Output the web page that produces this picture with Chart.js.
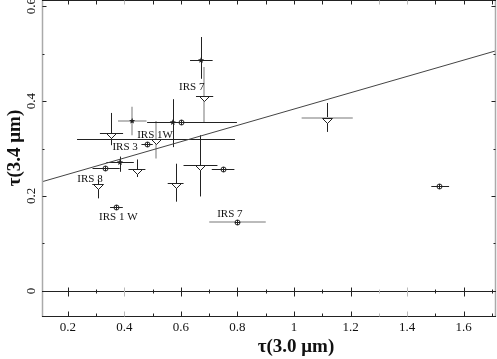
<!DOCTYPE html>
<html>
<head>
<meta charset="utf-8">
<script src="https://cdn.jsdelivr.net/npm/chart.js@4/dist/chart.umd.min.js"></script>
<style>
  html, body { margin: 0; padding: 0; background: #fff; }
  canvas { display: block; }
</style>
</head>
<body>
<canvas id="myChart" width="497" height="359"></canvas>
<script>
'use strict';

// ---- data ----
// stars
let starX   = [0.671, 0.427, 0.571, 0.384];
let starY   = [0.486, 0.358, 0.355, 0.271];
let starXLo = [0.632, 0.377, 0.480, 0.336];
let starXHi = [0.712, 0.478, 0.798, 0.433];
let starYLo = [0.447, 0.328, 0.303, 0.251];
let starYHi = [0.535, 0.388, 0.404, 0.283];

// circles with cross
let circX   = [0.600, 0.481, 0.331, 0.370, 0.750, 0.799, 1.514];
let circY   = [0.355, 0.309, 0.258, 0.177, 0.257, 0.146, 0.221];
let circXLo = [0.585, 0.460, 0.287, 0.349, 0.709, 0.700, 1.486];
let circXHi = [0.615, 0.500, 0.383, 0.394, 0.789, 0.900, 1.549];

// open triangles (pointing down)
let triX   = [0.681, 0.352, 0.511, 0.443, 0.305, 0.582, 0.668, 1.118];
let triY   = [0.411, 0.333, 0.320, 0.257, 0.226, 0.227, 0.265, 0.365];
let triXLo = [0.653, 0.313, 0.232, 0.414, 0.286, 0.553, 0.609, 1.027];
let triXHi = [0.714, 0.395, 0.791, 0.474, 0.325, 0.609, 0.729, 1.208];
let triYLo = [0.354, 0.307, 0.279, 0.240, 0.195, 0.188, 0.199, 0.335];
let triYHi = [0.472, 0.375, 0.358, 0.277, 0.234, 0.268, 0.328, 0.396];

// fitted line end points
let fitX = [0.108, 1.715];
let fitY = [0.230, 0.506];

// source labels
let labelText = ['IRS 7', 'IRS 1W', 'IRS 3', 'IRS 8', 'IRS 1 W', 'IRS 7'];
let labelX    = [0.638, 0.508, 0.402, 0.278, 0.378, 0.773];
let labelY    = [0.430, 0.328, 0.303, 0.235, 0.156, 0.162];

let xTicks = [0.2, 0.4, 0.6, 0.8, 1, 1.2, 1.4, 1.6];
let yTicks = [0, 0.2, 0.4, 0.6];

// ---- style ----
let ink = '#222';
let grey = '#bbb';
let serif = '"Liberation Serif", "DejaVu Serif", serif';
// which error bars are printed in grey
let starGreyX = [1];
let starGreyY = [1];
let circGreyX = [5];
let triGreyX = [7];
let triGreyY = [0, 2];
let greyXTicks = [0.4, 1.3, 1.4];

function toPoints(xs, ys) {
  let pts = [];
  for (let i = 0; i < xs.length; i++) {
    pts.push({x: xs[i], y: ys[i]});
  }
  return pts;
}

// marker painters, called at the element positions chart.js works out
function drawStar(g, x, y) {
  g.fillStyle = ink;
  g.beginPath();
  for (let i = 0; i < 10; i++) {
    let r = i % 2 === 0 ? 3.2 : 1.4;
    let a = -Math.PI / 2 + i * Math.PI / 5;
    g.lineTo(x + r * Math.cos(a), y + r * Math.sin(a));
  }
  g.closePath();
  g.fill();
}

function drawCircle(g, x, y) {
  x = Math.round(x) + 0.5;
  y = Math.round(y) + 0.5;
  g.strokeStyle = ink;
  g.lineWidth = 1;
  g.fillStyle = '#fff';
  g.beginPath();
  g.arc(x, y, 2.5, 0, Math.PI * 2);
  g.fill();
  g.stroke();
  g.beginPath();
  g.moveTo(x, y - 2.5); g.lineTo(x, y + 2.5);
  g.moveTo(x - 2.5, y); g.lineTo(x + 2.5, y);
  g.stroke();
}

function drawTriangle(g, x, y) {
  x = Math.round(x) + 0.5;
  y = Math.round(y) + 0.5;
  g.strokeStyle = ink;
  g.lineWidth = 1;
  g.fillStyle = '#fff';
  g.beginPath();
  g.moveTo(x - 5, y);
  g.lineTo(x + 5, y);
  g.lineTo(x, y + 5);
  g.closePath();
  g.fill();
  g.stroke();
}

// error bars under the markers, markers on top
let errorBars = {
  id: 'errorBars',
  beforeDatasetsDraw(chart) {
    let ctx = chart.ctx;
    let sx = chart.scales.x;
    let sy = chart.scales.y;

    function bar(x1, y1, x2, y2, isGrey) {
      let px1 = sx.getPixelForValue(x1), py1 = sy.getPixelForValue(y1);
      let px2 = sx.getPixelForValue(x2), py2 = sy.getPixelForValue(y2);
      ctx.strokeStyle = isGrey ? grey : ink;
      ctx.lineWidth = isGrey ? 2 : 1;
      let off = isGrey ? 0 : 0.5;
      ctx.beginPath();
      if (x1 === x2) {
        px1 = px2 = Math.round(px1) + off;
      } else {
        py1 = py2 = Math.round(py1) + off;
      }
      ctx.moveTo(px1, py1);
      ctx.lineTo(px2, py2);
      ctx.stroke();
    }

    ctx.save();
    for (let i = 0; i < circX.length; i++) {
      bar(circXLo[i], circY[i], circXHi[i], circY[i], circGreyX.includes(i));
    }
    for (let i = 0; i < triX.length; i++) {
      bar(triX[i], triYLo[i], triX[i], triYHi[i], triGreyY.includes(i));
      bar(triXLo[i], triY[i], triXHi[i], triY[i], triGreyX.includes(i));
    }
    for (let i = 0; i < starX.length; i++) {
      bar(starX[i], starYLo[i], starX[i], starYHi[i], starGreyY.includes(i));
      bar(starXLo[i], starY[i], starXHi[i], starY[i], starGreyX.includes(i));
    }
    ctx.restore();
  },
  afterDatasetsDraw(chart) {
    let ctx = chart.ctx;
    ctx.save();
    chart.data.datasets.forEach(function (ds, d) {
      if (!ds.marker) {
        return;
      }
      chart.getDatasetMeta(d).data.forEach(function (el) {
        ds.marker(ctx, el.x, el.y);
      });
    });
    ctx.restore();
  }
};

// frame, ticks, numbers, titles and source labels
let frame = {
  id: 'frame',
  afterDraw(chart) {
    let ctx = chart.ctx;
    let a = chart.chartArea;
    let sx = chart.scales.x;
    let sy = chart.scales.y;
    let y0 = Math.round(sy.getPixelForValue(0)) + 0.5;
    let top = a.top + 0.5;
    let bottom = Math.round(a.bottom) - 0.5;
    let left = a.left + 0.5;
    let right = Math.round(a.right) - 0.5;

    ctx.save();

    // grey sides
    ctx.strokeStyle = '#aaa';
    ctx.lineWidth = 1.5;
    ctx.beginPath();
    ctx.moveTo(left, a.top); ctx.lineTo(left, a.bottom);
    ctx.moveTo(right, a.top); ctx.lineTo(right, a.bottom);
    ctx.stroke();

    ctx.lineWidth = 1;
    ctx.strokeStyle = ink;
    ctx.beginPath();
    ctx.moveTo(a.left, top); ctx.lineTo(a.right, top);
    ctx.moveTo(a.left, bottom); ctx.lineTo(a.right, bottom);
    ctx.moveTo(a.left, y0); ctx.lineTo(a.right, y0);
    ctx.stroke();

    // x ticks every 0.1
    for (let k = 2; k <= 17; k++) {
      let v = k / 10;
      let px = Math.round(sx.getPixelForValue(v)) + 0.5;
      let major = k % 2 === 0;
      ctx.strokeStyle = greyXTicks.includes(v) ? grey : ink;
      ctx.beginPath();
      ctx.moveTo(px, bottom); ctx.lineTo(px, bottom - (major ? 5 : 3));
      ctx.moveTo(px, y0 - (major ? 4 : 2)); ctx.lineTo(px, y0 + (major ? 5 : 2));
      ctx.moveTo(px, top); ctx.lineTo(px, top + 4);
      ctx.stroke();
    }

    // y ticks every 0.1
    ctx.strokeStyle = ink;
    for (let k = 0; k <= 6; k++) {
      let py = Math.round(sy.getPixelForValue(k / 10)) + 0.5;
      let len = k % 2 === 0 ? 4 : 2;
      ctx.beginPath();
      ctx.moveTo(left, py); ctx.lineTo(left + len, py);
      ctx.moveTo(right, py); ctx.lineTo(right - len, py);
      ctx.stroke();
    }

    ctx.fillStyle = '#111';
    ctx.textAlign = 'center';
    ctx.textBaseline = 'middle';

    // tick numbers
    ctx.font = '13px ' + serif;
    xTicks.forEach(function (v) {
      ctx.fillText(String(v), sx.getPixelForValue(v), 328);
    });
    yTicks.forEach(function (v) {
      ctx.save();
      ctx.translate(32, sy.getPixelForValue(v));
      ctx.rotate(-Math.PI / 2);
      ctx.fillText(String(v), 0, 0);
      ctx.restore();
    });

    // axis titles
    ctx.font = 'bold 19px ' + serif;
    ctx.fillText('τ(3.0 μm)', 296, 347);
    ctx.save();
    ctx.translate(15, 148);
    ctx.rotate(-Math.PI / 2);
    ctx.fillText('τ(3.4 μm)', 0, 0);
    ctx.restore();

    // source labels
    ctx.font = '11px ' + serif;
    for (let i = 0; i < labelText.length; i++) {
      ctx.fillText(labelText[i], sx.getPixelForValue(labelX[i]), sy.getPixelForValue(labelY[i]));
    }
    ctx.restore();
  }
};

let chartEl = document.getElementById('myChart');
let ctx = chartEl.getContext('2d');

new Chart(ctx, {
  type: 'scatter',
  data: {
    datasets: [{
      type: 'line',
      data: toPoints(fitX, fitY),
      borderColor: '#444',
      borderWidth: 1,
      pointRadius: 0,
      fill: false
    }, {
      data: toPoints(circX, circY),
      pointRadius: 0,
      marker: drawCircle
    }, {
      data: toPoints(triX, triY),
      pointRadius: 0,
      marker: drawTriangle
    }, {
      data: toPoints(starX, starY),
      pointRadius: 0,
      marker: drawStar
    }]
  },
  options: {
    responsive: false,
    animation: false,
    events: [],
    layout: {padding: {left: 42, right: 1, top: 0, bottom: 42}},
    plugins: {legend: {display: false}, tooltip: {enabled: false}},
    scales: {
      x: {type: 'linear', min: 0.108, max: 1.715, display: false},
      y: {type: 'linear', min: -0.055, max: 0.613, display: false}
    }
  },
  plugins: [errorBars, frame]
});
</script>
</body>
</html>
